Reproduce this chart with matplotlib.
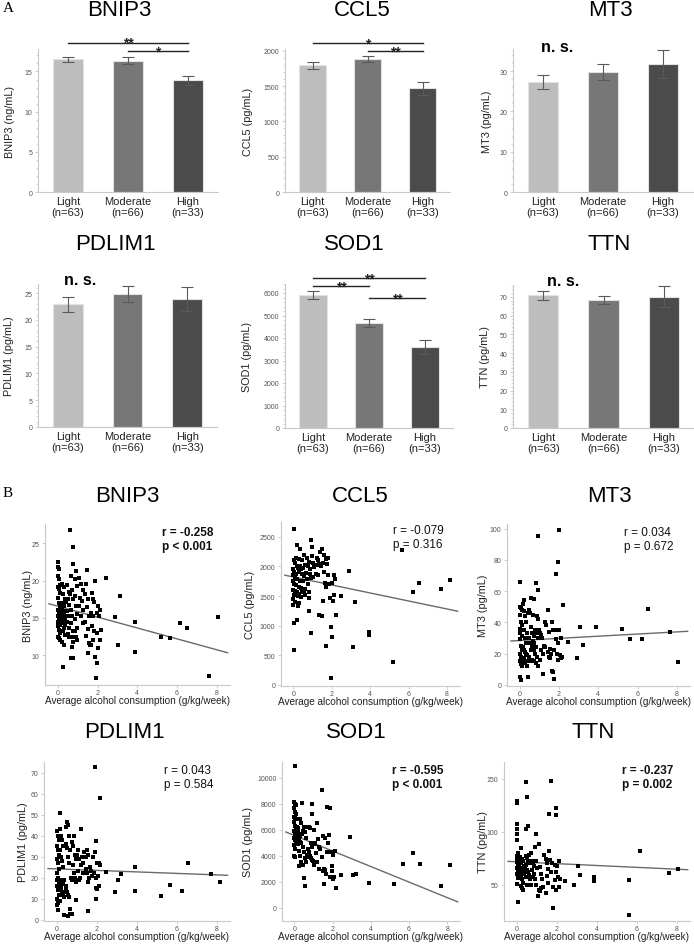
import numpy as np
import matplotlib
matplotlib.use("Agg")
import matplotlib.pyplot as plt
from matplotlib.ticker import AutoMinorLocator

plt.rcParams['font.family'] = ['Liberation Sans', 'DejaVu Sans']

W, H = 694, 945

# ---------------- data: group means (A) ----------------
groups = ["Light\n(n=63)", "Moderate\n(n=66)", "High\n(n=33)"]
bar_colors = ["#bdbdbd", "#777777", "#4b4b4b"]

genes = ["BNIP3", "CCL5", "MT3", "PDLIM1", "SOD1", "TTN"]
ylabels = ["BNIP3 (ng/mL)", "CCL5 (pg/mL)", "MT3 (pg/mL)",
           "PDLIM1 (pg/mL)", "SOD1 (pg/mL)", "TTN (pg/mL)"]

bnip3_mean = [16.5, 16.35, 13.9]
bnip3_sem = [0.35, 0.45, 0.55]
ccl5_mean = [1797, 1882, 1467]
ccl5_sem = [50, 40, 95]
mt3_mean = [27.3, 29.8, 31.7]
mt3_sem = [1.7, 1.9, 3.5]
pdlim1_mean = [22.9, 24.75, 23.9]
pdlim1_sem = [1.4, 1.5, 2.2]
sod1_mean = [5926, 4652, 3600]
sod1_sem = [180, 180, 300]
ttn_mean = [70.9, 68.4, 70.2]
ttn_sem = [2.5, 2.3, 5.6]

# significance brackets: (from group, to group, height, label)
bnip3_sig = [(0, 2, 18.6, "**"), (1, 2, 17.5, "*")]
ccl5_sig = [(0, 2, 2108, "*"), (1, 2, 1995, "**")]
sod1_sig = [(0, 2, 6667, "**"), (0, 1, 6311, "**"), (1, 2, 5778, "**")]

# ---------------- data: correlations (B) ----------------
bnip3_pts = [
    (0.02, 22.5), (0.0, 21.8), (0.08, 21.5), (0.0, 20.6), (0.05, 20.2), (0.1, 19.4), (0.0, 19.2),
    (0.05, 18.9), (0.1, 18.4), (0.0, 17.7), (0.05, 17.0), (0.1, 16.6), (0.0, 16.1), (0.05, 15.7),
    (0.1, 15.5), (0.0, 15.2), (0.05, 15.0), (0.1, 14.8), (0.0, 14.5), (0.05, 14.3), (0.1, 14.1),
    (0.0, 13.9), (0.05, 13.4), (0.1, 13.0), (0.0, 12.5), (0.05, 12.3), (0.1, 12.1),
    (0.2, 19.6), (0.3, 19.1), (0.25, 18.2), (0.35, 17.5), (0.2, 17.0), (0.3, 16.6), (0.22, 16.1),
    (0.38, 15.9), (0.28, 15.7), (0.33, 15.5), (0.2, 15.2), (0.36, 15.0), (0.25, 14.8), (0.3, 14.5),
    (0.22, 14.3), (0.38, 14.1), (0.3, 13.6), (0.25, 13.2), (0.35, 12.7), (0.2, 11.8), (0.3, 11.3),
    (0.25, 8.4),
    (0.45, 19.4), (0.55, 18.5), (0.5, 17.6), (0.42, 17.2), (0.58, 16.8), (0.48, 15.9), (0.52, 15.2),
    (0.45, 14.4), (0.55, 13.6), (0.5, 12.9), (0.58, 12.4),
    (0.6, 26.8), (0.76, 24.5), (0.76, 22.2), (0.65, 20.6), (0.7, 18.8), (0.62, 18.2), (0.75, 17.5),
    (0.68, 16.1), (0.72, 15.2), (0.65, 14.3), (0.78, 13.2), (0.7, 12.4), (0.75, 11.8), (0.72, 11.1),
    (0.65, 9.6), (0.75, 9.6),
    (0.93, 21.3), (0.85, 20.2), (0.95, 19.3), (0.88, 18.0), (0.9, 16.6), (0.98, 15.5), (0.85, 14.8),
    (0.95, 13.7), (0.88, 13.2), (0.92, 12.5), (0.97, 12.0),
    (1.05, 20.4), (1.18, 19.5), (1.25, 18.8), (1.1, 17.7), (1.2, 17.3), (1.05, 16.6), (1.25, 16.1),
    (1.15, 15.2), (1.28, 14.3),
    (1.46, 21.4), (1.4, 19.5), (1.35, 18.2), (1.5, 17.5), (1.45, 16.4), (1.55, 15.3), (1.38, 14.4),
    (1.5, 13.5), (1.42, 12.6), (1.55, 11.7), (1.6, 11.3), (1.5, 10.3),
    (1.85, 19.9), (1.7, 18.4), (1.75, 17.5), (1.8, 17.1), (1.65, 15.7), (1.78, 15.3), (1.7, 13.9),
    (1.82, 13.2), (1.75, 12.1), (1.68, 11.3), (1.85, 9.8),
    (2.0, 16.6), (2.1, 16.1), (1.95, 15.7), (2.05, 15.3), (2.15, 13.4), (1.95, 13.0), (2.1, 12.1),
    (2.0, 11.0), (1.95, 8.9), (1.9, 6.9),
    (2.41, 20.3), (2.86, 15.1), (3.03, 11.4), (3.15, 17.9), (3.87, 14.4), (3.87, 10.4), (5.19, 12.5),
    (5.64, 12.3), (6.15, 14.3), (6.52, 13.6), (7.63, 7.2), (8.08, 15.1),
]

ccl5_pts = [
    (0.03, 2625), (0.9, 2444), (0.2, 2360), (0.35, 2300), (1.5, 2300), (0.95, 2330), (1.6, 2200),
    (0.55, 2190), (0.95, 2180), (1.2, 2150), (1.4, 2250), (0.15, 2140), (0.3, 2120), (0.45, 2100),
    (0.7, 2140), (0.8, 2080), (1.0, 2060), (1.3, 2100), (1.7, 2130), (1.8, 2150), (0.05, 2100),
    (0.1, 2050), (0.2, 2000), (0.25, 1980), (0.35, 2010), (0.4, 1950), (0.5, 1980), (0.6, 2030),
    (0.75, 2000), (0.85, 1950), (1.05, 1990), (1.2, 2030), (1.35, 2040), (1.45, 2000), (1.55, 2050),
    (1.75, 2040), (0.0, 1950), (0.05, 1900), (0.15, 1880), (0.3, 1900), (0.45, 1870), (0.55, 1830),
    (0.65, 1890), (0.85, 1870), (1.15, 1870), (1.3, 1860), (1.6, 1900), (1.8, 1850), (2.1, 1850),
    (2.91, 1917), (0.0, 1850), (0.1, 1800), (0.2, 1780), (0.35, 1760), (0.5, 1750), (0.7, 1780),
    (0.9, 1800), (1.0, 1820), (1.65, 1720), (1.85, 1700), (2.0, 1720), (2.15, 1780), (0.0, 1750),
    (0.05, 1700), (0.15, 1680), (0.3, 1650), (0.4, 1630), (0.6, 1620), (0.75, 1700), (1.7, 1650),
    (0.0, 1600), (0.1, 1580), (0.2, 1560), (0.3, 1530), (0.45, 1560), (0.55, 1590), (0.8, 1570),
    (0.05, 1520), (0.25, 1500), (0.4, 1490), (0.6, 1520), (0.8, 1470), (1.9, 1470), (2.05, 1420),
    (2.1, 1520), (2.45, 1508), (1.55, 1420), (0.0, 1450), (0.1, 1400), (0.3, 1380), (0.0, 1350),
    (0.25, 1330), (3.22, 1406), (0.81, 1242), (1.33, 1180), (1.5, 1157), (2.19, 1180), (0.2, 1100),
    (0.03, 1037), (1.97, 970), (0.9, 867), (3.91, 885), (3.91, 845), (2.02, 800), (1.67, 658),
    (3.09, 646), (0.03, 590), (5.2, 386), (1.93, 108), (5.67, 2274), (6.2, 1565), (6.55, 1718),
    (7.67, 1622), (8.14, 1763),
]

mt3_pts = [
    (0.0, 50), (0.05, 49), (0.1, 48), (0.0, 45), (0.05, 40), (0.1, 38), (0.0, 36), (0.05, 35),
    (0.0, 33), (0.1, 31), (0.0, 29), (0.05, 25), (0.1, 22), (0.0, 20), (0.05, 18), (0.1, 16),
    (0.0, 15), (0.05, 13), (0.0, 5), (0.05, 3), (0.1, 12), (0.03, 66), (0.2, 54.4),
    (0.15, 52), (0.2, 47), (0.25, 44), (0.3, 40), (0.2, 35), (0.35, 33), (0.25, 30), (0.3, 27),
    (0.15, 24), (0.2, 22), (0.25, 21), (0.3, 20), (0.35, 19), (0.2, 17), (0.3, 15), (0.25, 14),
    (0.35, 12), (0.4, 30), (0.4, 46),
    (0.45, 48), (0.5, 46), (0.55, 37), (0.6, 33), (0.45, 30), (0.5, 27), (0.6, 25), (0.55, 22),
    (0.45, 18), (0.6, 16), (0.5, 15), (0.4, 5), (0.58, 55.4), (0.65, 45), (0.7, 31), (0.65, 28),
    (0.7, 22),
    (0.75, 55.2), (0.83, 65), (0.92, 95.3), (0.95, 60.6), (0.9, 44), (0.92, 42), (0.8, 35),
    (0.85, 33), (0.95, 30), (0.75, 27), (0.85, 24), (0.8, 20), (0.9, 18), (0.75, 15), (0.85, 14),
    (0.95, 12), (1.0, 35),
    (1.05, 33), (1.15, 30), (1.25, 25), (1.1, 22), (1.2, 20), (1.3, 24), (1.05, 16), (1.2, 7),
    (1.3, 40), (1.35, 38), (1.1, 32),
    (1.46, 47.8), (1.5, 34), (1.55, 23), (1.45, 21), (1.6, 20), (1.5, 18), (1.65, 40), (1.7, 35),
    (1.75, 22), (1.65, 9), (1.7, 8), (1.75, 4), (1.55, 17),
    (1.85, 70.8), (1.97, 78.7), (2.02, 99.1), (2.19, 51), (1.9, 35), (2.0, 35), (1.85, 29),
    (1.95, 27), (2.1, 30), (1.9, 20), (2.05, 19), (2.15, 18), (1.95, 16), (2.1, 17),
    (6.54, 48.4), (3.07, 37.3), (3.88, 37.3), (5.2, 36), (7.66, 34.1), (5.63, 29.2), (6.22, 29.2),
    (8.08, 14.3), (2.9, 17.1), (3.2, 25.4), (2.44, 27.1),
]

pdlim1_pts = [
    (0.0, 42), (0.05, 40), (0.1, 38), (0.0, 35), (0.05, 33), (0.1, 31), (0.0, 29), (0.05, 27),
    (0.1, 24), (0.0, 22), (0.05, 20), (0.1, 18), (0.0, 16), (0.05, 14), (0.1, 12), (0.0, 10),
    (0.05, 8), (0.0, 7), (0.05, 4.5), (0.1, 17), (0.0, 19),
    (0.17, 50.7), (0.15, 43), (0.2, 40), (0.25, 38), (0.3, 35), (0.15, 33), (0.2, 30), (0.25, 28),
    (0.3, 25), (0.2, 19), (0.25, 18.5), (0.3, 18), (0.35, 19), (0.28, 17.5), (0.32, 17), (0.2, 15),
    (0.25, 13), (0.3, 12), (0.35, 11), (0.15, 9), (0.34, 2.3), (0.4, 13),
    (0.45, 44), (0.5, 46.5), (0.55, 45), (0.6, 40), (0.45, 36), (0.5, 34), (0.55, 30), (0.6, 27),
    (0.45, 14), (0.5, 13), (0.55, 12), (0.6, 11), (0.45, 16), (0.55, 1.6), (0.64, 2.7), (0.67, 5),
    (0.7, 20), (0.65, 33),
    (0.77, 2.7), (0.75, 37), (0.8, 35), (0.85, 40), (0.9, 31), (0.95, 29), (0.8, 26), (0.85, 22),
    (0.9, 20), (0.75, 19), (0.95, 18), (0.97, 9.2), (1.0, 31),
    (1.19, 43), (1.05, 33), (1.1, 29), (1.2, 26), (1.25, 30), (1.3, 27), (1.05, 23), (1.15, 20),
    (1.3, 22), (1.1, 19), (1.35, 32),
    (1.45, 30), (1.5, 33), (1.55, 31), (1.45, 24), (1.5, 22), (1.6, 20), (1.55, 18), (1.65, 25),
    (1.7, 23), (1.75, 21), (1.56, 4.2), (1.8, 30),
    (1.9, 72.7), (2.15, 58), (1.98, 37.6), (1.9, 32), (2.0, 27), (2.1, 27), (2.15, 26), (1.85, 22),
    (1.95, 20), (2.05, 21), (1.95, 15), (2.0, 14.5), (2.1, 16), (1.95, 9.7),
    (3.92, 24.9), (6.55, 26.9), (7.7, 21.9), (8.15, 17.9), (5.68, 16.3), (6.24, 13.9), (5.23, 11.3),
    (3.92, 13.6), (2.91, 13.2), (3.07, 18.8), (3.19, 21.9), (2.45, 22.7),
]

sod1_pts = [
    (0.05, 10880), (0.0, 8100), (0.05, 8000), (0.1, 7900), (0.0, 7700), (0.05, 7400), (0.1, 7200),
    (0.0, 7000), (0.05, 6900), (0.1, 6800), (0.0, 6600), (0.05, 6300), (0.1, 6100), (0.0, 5900),
    (0.05, 5700), (0.1, 5600), (0.0, 5400), (0.05, 5200), (0.1, 5000), (0.0, 4800), (0.05, 4500),
    (0.0, 3950), (0.05, 3900), (0.1, 5300), (0.15, 5800), (0.15, 6200),
    (0.2, 5900), (0.25, 5600), (0.3, 5500), (0.2, 5300), (0.25, 5200), (0.3, 5100), (0.35, 5000),
    (0.2, 4900), (0.3, 6800), (0.35, 6500), (0.4, 8020), (0.25, 4400), (0.3, 4000), (0.35, 3500),
    (0.25, 3200), (0.2, 6100), (0.4, 5700),
    (0.45, 5900), (0.5, 6200), (0.55, 5800), (0.6, 5400), (0.45, 4700), (0.5, 4300), (0.55, 3800),
    (0.6, 3500), (0.45, 3300), (0.52, 2280), (0.55, 1720), (0.65, 4100), (0.7, 4500), (0.68, 6200),
    (0.75, 6200), (0.8, 6100), (0.85, 5000), (0.9, 4700), (0.75, 4300), (0.8, 4000), (0.85, 3800),
    (0.9, 3700), (0.95, 3600), (0.92, 7970), (0.9, 7200), (1.0, 3300), (0.78, 3900),
    (1.05, 6000), (1.1, 5000), (1.2, 6500), (1.25, 5300), (1.3, 4700), (1.15, 4200), (1.2, 3500),
    (1.3, 3000), (1.1, 4900), (1.35, 4500),
    (1.47, 9060), (1.73, 7720), (1.85, 7640), (1.5, 5500), (1.6, 5400), (1.7, 4300), (1.55, 3000),
    (1.6, 2900), (1.5, 2800), (1.65, 2600), (1.56, 1850), (1.75, 5000), (1.8, 5600), (1.45, 3900),
    (1.9, 4300), (2.0, 4100), (2.1, 4400), (1.95, 3200), (2.05, 2400), (1.95, 2800), (2.16, 1520),
    (1.85, 2400), (2.0, 2200),
    (2.91, 5440), (6.23, 4225), (5.66, 3340), (6.55, 3365), (8.14, 3290), (7.7, 1720), (5.19, 1850),
    (3.9, 1900), (3.2, 2600), (3.08, 2530), (2.42, 2530),
]

ttn_pts = [
    (0.0, 128.8), (0.0, 127.2), (0.0, 106.9), (0.0, 103), (0.0, 97.5), (0.0, 92.2), (0.05, 80),
    (0.0, 77), (0.1, 75), (0.05, 73), (0.0, 71), (0.1, 70), (0.05, 68), (0.0, 66), (0.1, 64),
    (0.05, 62), (0.0, 60), (0.1, 58), (0.05, 56), (0.0, 51), (0.05, 33.4), (0.1, 67), (0.0, 74),
    (0.15, 76), (0.2, 85), (0.25, 74), (0.3, 72), (0.2, 70), (0.25, 66), (0.3, 63), (0.15, 60),
    (0.2, 58), (0.25, 55), (0.3, 52), (0.2, 49), (0.25, 47), (0.3, 45), (0.35, 68), (0.4, 65),
    (0.35, 60),
    (0.43, 146.9), (0.5, 132.8), (0.55, 105.6), (0.43, 102.5), (0.45, 77), (0.5, 75), (0.55, 72),
    (0.6, 78), (0.45, 69), (0.5, 64), (0.55, 62), (0.6, 59), (0.45, 57), (0.65, 55), (0.7, 80),
    (0.65, 70), (0.7, 50), (0.5, 50),
    (0.93, 97.8), (0.75, 72), (0.8, 70), (0.85, 68), (0.9, 86), (0.95, 72), (0.75, 64), (0.85, 60),
    (0.9, 55), (0.95, 50), (0.8, 57), (1.0, 66),
    (1.05, 39.7), (1.1, 88), (1.15, 67), (1.2, 60), (1.1, 45), (1.15, 44), (1.25, 55), (1.3, 48),
    (1.35, 78), (1.2, 47),
    (1.72, 147.8), (1.6, 117), (1.45, 74), (1.5, 70), (1.55, 65), (1.6, 82), (1.65, 73), (1.5, 58),
    (1.55, 52), (1.45, 42), (1.7, 62), (1.8, 28.1), (1.75, 70), (1.8, 48),
    (1.97, 122.5), (1.97, 116.3), (1.9, 69), (2.0, 68), (2.1, 72), (1.95, 62), (2.05, 57),
    (1.9, 54), (2.15, 55), (2.1, 48), (1.95, 45),
    (6.18, 81.9), (8.05, 65), (7.63, 60.9), (5.63, 54.4), (3.88, 56.9), (3.88, 53.1), (2.88, 50),
    (3.17, 59.4), (2.42, 53.1), (5.6, 21.3), (3.05, 68),
]

# fitted lines: (intercept, slope)
fits = [(16.57, -0.73), (1821, -67.6), (28.35, 0.69), (24.17, -0.356), (5563, -596), (71.6, -0.875)]
fit_range = [-0.45, 8.55]
r_text = ["r = -0.258\np < 0.001", "r = -0.079\np = 0.316", "r = 0.034\np = 0.672",
          "r = 0.043\np = 0.584", "r = -0.595\np < 0.001", "r = -0.237\np = 0.002"]
r_bold = [True, False, False, False, True, True]

# ---------------- layout (pixel boxes) ----------------
fig = plt.figure(figsize=(W / 100, H / 100), dpi=100)
fig.patch.set_facecolor("white")


def px_axes(l, t, r, b):
    return fig.add_axes([l / W, 1 - b / H, (r - l) / W, (b - t) / H])


spine_col = "#c8c8c8"
tick_col = "#555555"


def style_axes(ax):
    for s in ["top", "right"]:
        ax.spines[s].set_visible(False)
    for s in ["left", "bottom"]:
        ax.spines[s].set_color(spine_col)
        ax.spines[s].set_linewidth(0.8)
    ax.tick_params(axis="y", colors=spine_col, labelcolor=tick_col, labelsize=5, length=2.5, width=0.6, pad=1.5)
    ax.tick_params(axis="y", which="minor", colors=spine_col, length=1.5, width=0.5)


bar_boxes = [(38, 50, 218, 193), (285, 50, 450, 193), (513, 50, 693, 193),
             (38, 285, 217, 428), (285, 285, 453, 429), (513, 286, 694, 429)]
bar_ylabel_x = [15, 253, 492, 14, 252, 490]
bar_title_pos = [(119, 11), (362, 11), (610, 11), (115, 245), (354, 245), (609, 245)]
bar_means = [bnip3_mean, ccl5_mean, mt3_mean, pdlim1_mean, sod1_mean, ttn_mean]
bar_sems = [bnip3_sem, ccl5_sem, mt3_sem, pdlim1_sem, sod1_sem, ttn_sem]
bar_ylim = [17.8, 2024, 35.5, 26.7, 6400, 76.4]
bar_ticks = [[0, 5, 10, 15], [0, 500, 1000, 1500, 2000], [0, 10, 20, 30],
             [0, 5, 10, 15, 20, 25], [0, 1000, 2000, 3000, 4000, 5000, 6000],
             [0, 10, 20, 30, 40, 50, 60, 70]]
bar_sigs = [bnip3_sig, ccl5_sig, None, None, sod1_sig, None]
ns_pos = [None, None, (0.23, 36.0), (0.2, 27.6), None, (0.33, 78.6)]

for i in range(6):
    l, t, r, b = bar_boxes[i]
    ax = px_axes(l, t, r, b)
    x = np.arange(3)
    ax.bar(x, bar_means[i], width=0.5, color=bar_colors, edgecolor="#e2e2e2", linewidth=0.8, zorder=2)
    ax.errorbar(x, bar_means[i], yerr=bar_sems[i], fmt="none", ecolor="#5a5a5a",
                elinewidth=0.8, capsize=4, capthick=0.8, zorder=3)
    ax.set_xlim(-0.5, 2.5)
    ax.set_ylim(0, bar_ylim[i])
    ax.set_yticks(bar_ticks[i])
    ax.yaxis.set_minor_locator(AutoMinorLocator(5))
    style_axes(ax)
    ax.set_xticks(x)
    ax.set_xticklabels(groups, fontsize=8, color="#222222", linespacing=1.15)
    ax.tick_params(axis="x", length=0, pad=3)
    ax.set_ylabel(ylabels[i], fontsize=7.8, color="#222222")
    ax.yaxis.set_label_coords((bar_ylabel_x[i] - l) / (r - l), 0.5)
    fig.text(bar_title_pos[i][0] / W, 1 - bar_title_pos[i][1] / H, genes[i],
             fontsize=16, ha="center", va="center")
    if bar_sigs[i]:
        for g0, g1, yv, lab in bar_sigs[i]:
            ax.plot([g0, g1], [yv, yv], color="#222222", lw=1.0, clip_on=False, zorder=4)
            ax.text((g0 + g1) / 2, yv, lab, fontsize=10, ha="center", va="center",
                    fontweight="bold", color="#222222")
    if ns_pos[i]:
        ax.text(ns_pos[i][0], ns_pos[i][1], "n. s.", fontsize=11.5, fontweight="bold",
                ha="center", va="center")

sc_boxes = [(45, 525, 230, 686), (281, 523, 460, 687), (507, 525, 690, 687),
            (44, 763, 230, 922), (282, 763, 460, 922), (504, 763, 690, 922)]
sc_ylabel_x = [33, 255, 488, 28, 253, 488]
sc_title_pos = [(127, 497), (360, 497), (609, 497), (124, 732), (356, 732), (593, 732)]
sc_pts = [bnip3_pts, ccl5_pts, mt3_pts, pdlim1_pts, sod1_pts, ttn_pts]
sc_ylim = [(6.0, 27.6), (-20, 2750), (-0.8, 103), (-0.6, 75), (-1000, 11200), (15.6, 166)]
sc_ticks = [[10, 15, 20, 25], [0, 500, 1000, 1500, 2000, 2500], [0, 20, 40, 60, 80, 100],
            [0, 10, 20, 30, 40, 50, 60, 70], [0, 2000, 4000, 6000, 8000, 10000], [50, 100, 150]]

for i in range(6):
    l, t, r, b = sc_boxes[i]
    ax = px_axes(l, t, r, b)
    pts = np.array(sc_pts[i])
    ax.scatter(pts[:, 0], pts[:, 1], s=5, color="black", marker="s", linewidths=0, zorder=3)
    a0, a1 = fits[i]
    fx = np.array(fit_range)
    ax.plot(fx, a0 + a1 * fx, color="#6a6a6a", lw=1.0, zorder=2)
    ax.set_xlim(-0.65, 8.67)
    ax.set_ylim(*sc_ylim[i])
    ax.set_xticks([0, 2, 4, 6, 8])
    ax.set_yticks(sc_ticks[i])
    style_axes(ax)
    ax.tick_params(axis="x", colors=spine_col, labelcolor=tick_col, labelsize=5, length=2, width=0.6, pad=1)
    ax.set_xlabel("Average alcohol consumption (g/kg/week)", fontsize=7.2, color="#222222")
    ax.xaxis.set_label_coords(0.5, -10 / (b - t))
    ax.set_ylabel(ylabels[i], fontsize=7.8, color="#222222")
    ax.yaxis.set_label_coords((sc_ylabel_x[i] - l) / (r - l), 0.5)
    ax.text(0.91, 0.99, r_text[i], transform=ax.transAxes, ha="right", va="top",
            fontsize=8.5, fontweight="bold" if r_bold[i] else "normal",
            linespacing=1.25, multialignment="left", color="#111111")
    fig.text(sc_title_pos[i][0] / W, 1 - sc_title_pos[i][1] / H, genes[i],
             fontsize=16, ha="center", va="center")

fig.text(8 / W, 1 - 9 / H, "A", fontsize=11, family="Liberation Serif", ha="center", va="center")
fig.text(8 / W, 1 - 494 / H, "B", fontsize=11, family="Liberation Serif", ha="center", va="center")

fig.savefig("out.png", dpi=100, facecolor="white")
